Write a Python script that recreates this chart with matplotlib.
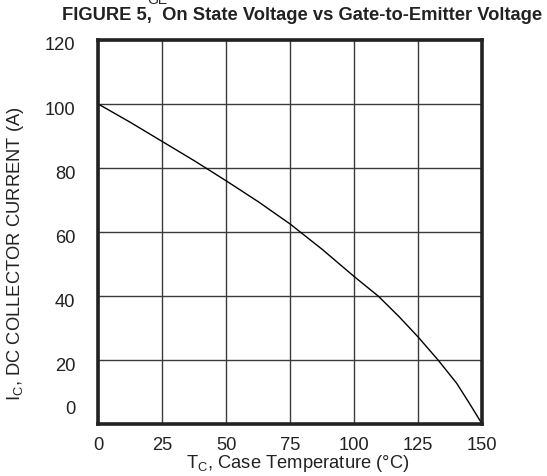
import matplotlib
matplotlib.use("Agg")
import matplotlib.pyplot as plt
import matplotlib.transforms as mtransforms

plt.rcParams['font.family'] = ['Liberation Sans', 'DejaVu Sans']

# Data
temperature = [0, 12.5, 25, 37.5, 50, 62.5, 75, 87.5, 100, 109.4, 117.5, 125, 132.8, 137.5, 140, 145, 150]
current = [100, 94.3, 88.3, 82.3, 76.0, 69.5, 62.5, 54.6, 46.1, 40.0, 33.6, 27.2, 20.0, 15.3, 12.8, 6.5, 0]
x_ticks = [0, 25, 50, 75, 100, 125, 150]
y_ticks = [0, 20, 40, 60, 80, 100, 120]

title = "FIGURE 5,  On State Voltage vs Gate-to-Emitter Voltage"
xlabel = r"T$_\mathregular{C}$, Case Temperature (°C)"
ylabel = r"I$_\mathregular{C}$, DC COLLECTOR CURRENT (A)"

FS = 13.2
W, H = 547, 476
fig = plt.figure(figsize=(W / 100, H / 100), dpi=100)
ax = fig.add_axes([98.3 / W, 1 - 424.3 / H, 384 / W, 384.3 / H])

ax.plot(temperature, current, color='black', lw=1.0, solid_joinstyle='round')

ax.set_xlim(0, 150)
ax.set_ylim(0, 120)
ax.set_xticks(x_ticks)
ax.set_yticks(y_ticks)
ax.grid(True, color='#3a3a3a', lw=1.0)
ax.set_axisbelow(True)
ax.tick_params(length=0, labelsize=FS, colors='#222222')
ax.tick_params(axis='x', pad=9)
ax.set_yticklabels([])
for s in ax.spines.values():
    s.set_linewidth(2.6)
    s.set_color('#222222')

# y tick labels, manually placed (as in reference)
for v in y_ticks:
    dy = 15 / 100 if v == 0 else -6 / 100
    tr = mtransforms.blended_transform_factory(ax.transAxes, ax.transData) + \
        mtransforms.ScaledTranslation(-23 / 100, dy, fig.dpi_scale_trans)
    ax.text(0, v, str(v), transform=tr, ha='right', va='center', fontsize=FS, color='#222222')

fig.text(298 / W, 1 - 464 / H, xlabel, ha='center', va='center', fontsize=FS, color='#222222')
fig.text(16 / W, 1 - 254 / H, ylabel, ha='center', va='center', rotation=90, fontsize=FS, color='#222222')

fig.text(302 / W, 1 - 16 / H, title, ha='center', va='center', fontsize=FS, fontweight='bold', color='#222222')
fig.text(157 / W, 1 - 0 / H, "GE", ha='center', va='center', fontsize=10, color='#222222')

fig.savefig("out.png", dpi=100)
